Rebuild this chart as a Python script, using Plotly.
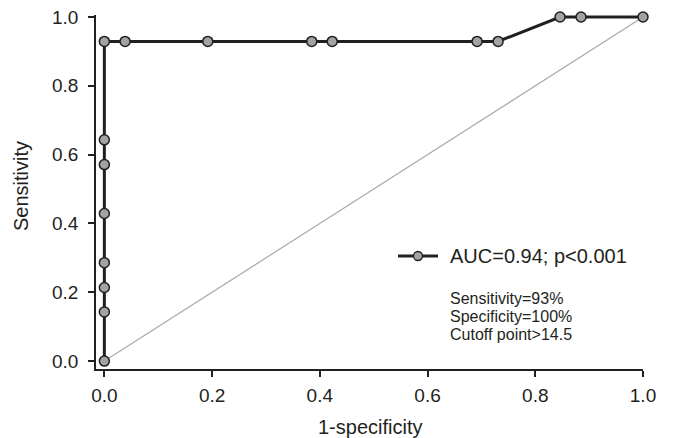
import plotly.graph_objects as go

# ROC curve points (1-specificity, sensitivity)
fpr = [0, 0, 0, 0, 0, 0, 0, 0, 0.0385, 0.192, 0.385, 0.423, 0.692, 0.731, 0.846, 0.885, 1.0]
tpr = [0, 0.143, 0.214, 0.286, 0.429, 0.571, 0.643, 0.929, 0.929, 0.929, 0.929, 0.929, 0.929, 0.929, 1.0, 1.0, 1.0]
ref_x = [0, 1]
ref_y = [0, 1]
legend_label = "AUC=0.94; p<0.001"
stats_lines = ["Sensitivity=93%", "Specificity=100%", "Cutoff point>14.5"]
tick_vals = [0, 0.2, 0.4, 0.6, 0.8, 1.0]
tick_text = ["0.0", "0.2", "0.4", "0.6", "0.8", "1.0"]
x_title = "1-specificity"
y_title = "Sensitivity"

FONT = "Liberation Sans, Arial, sans-serif"
INK = "#231f20"

W, H = 673, 438
L, R, T, B = 96, 30, 15, 69
PW, PH = W - L - R, H - T - B


def px_x(p):
    return (p - L) / PW


def px_y(p):
    return (H - B - p) / PH


fig = go.Figure()
fig.add_trace(go.Scatter(
    x=ref_x, y=ref_y, mode="lines",
    line=dict(color="#aaaaaa", width=1.2),
    showlegend=False, hoverinfo="skip", cliponaxis=False,
))
fig.add_trace(go.Scatter(
    x=fpr, y=tpr, mode="lines+markers", name=legend_label,
    line=dict(color=INK, width=3),
    marker=dict(size=10, color="#a3a3a3", line=dict(color=INK, width=1.5)),
    cliponaxis=False, showlegend=False,
))

# legend (drawn by hand to match the long line glyph)
ly = px_y(256)
fig.add_shape(type="line", xref="paper", yref="paper",
              x0=px_x(398), x1=px_x(438), y0=ly, y1=ly,
              line=dict(color=INK, width=3))
fig.add_shape(type="circle", xref="paper", yref="paper",
              xsizemode="pixel", ysizemode="pixel",
              xanchor=px_x(418), yanchor=ly, x0=-4.5, x1=4.5, y0=-4.5, y1=4.5,
              fillcolor="#a3a3a3", line=dict(color=INK, width=1.3))
fig.add_annotation(xref="paper", yref="paper", x=px_x(448), y=ly,
                   xanchor="left", yanchor="middle", text=legend_label,
                   showarrow=False, font=dict(family=FONT, size=20, color=INK))

for i, line in enumerate(stats_lines):
    fig.add_annotation(
        xref="paper", yref="paper", x=px_x(448), y=px_y(298 + 18 * i),
        xanchor="left", yanchor="middle", text=line, showarrow=False,
        font=dict(family=FONT, size=16, color=INK),
    )

# axis titles
fig.add_annotation(xref="paper", yref="paper", x=0.5, y=px_y(427),
                   xanchor="center", yanchor="middle", text=x_title,
                   showarrow=False, font=dict(family=FONT, size=20, color=INK))
fig.add_annotation(xref="paper", yref="paper", x=px_x(21), y=px_y(186),
                   xanchor="center", yanchor="middle", text=y_title, textangle=-90,
                   showarrow=False, font=dict(family=FONT, size=20, color=INK))

axis_common = dict(
    showline=True, linecolor=INK, linewidth=1.5,
    ticks="outside", ticklen=6, tickwidth=1.5, tickcolor=INK,
    showgrid=False, zeroline=False, tickvals=tick_vals, ticktext=tick_text,
    tickfont=dict(family=FONT, size=19, color=INK),
    automargin=False,
)

fig.update_layout(
    width=W, height=H,
    margin=dict(l=L, r=R, t=T, b=B),
    paper_bgcolor="white", plot_bgcolor="white",
    font=dict(family=FONT, color=INK),
    showlegend=False,
    xaxis=dict(range=[-0.0155, 1.0], ticklabelstandoff=2, **axis_common),
    yaxis=dict(range=[-0.023, 1.0058], ticklabelstandoff=6, **axis_common),
)

fig.write_html("out.html", config={"displayModeBar": False},
               post_script="document.body.style.margin='0';")
